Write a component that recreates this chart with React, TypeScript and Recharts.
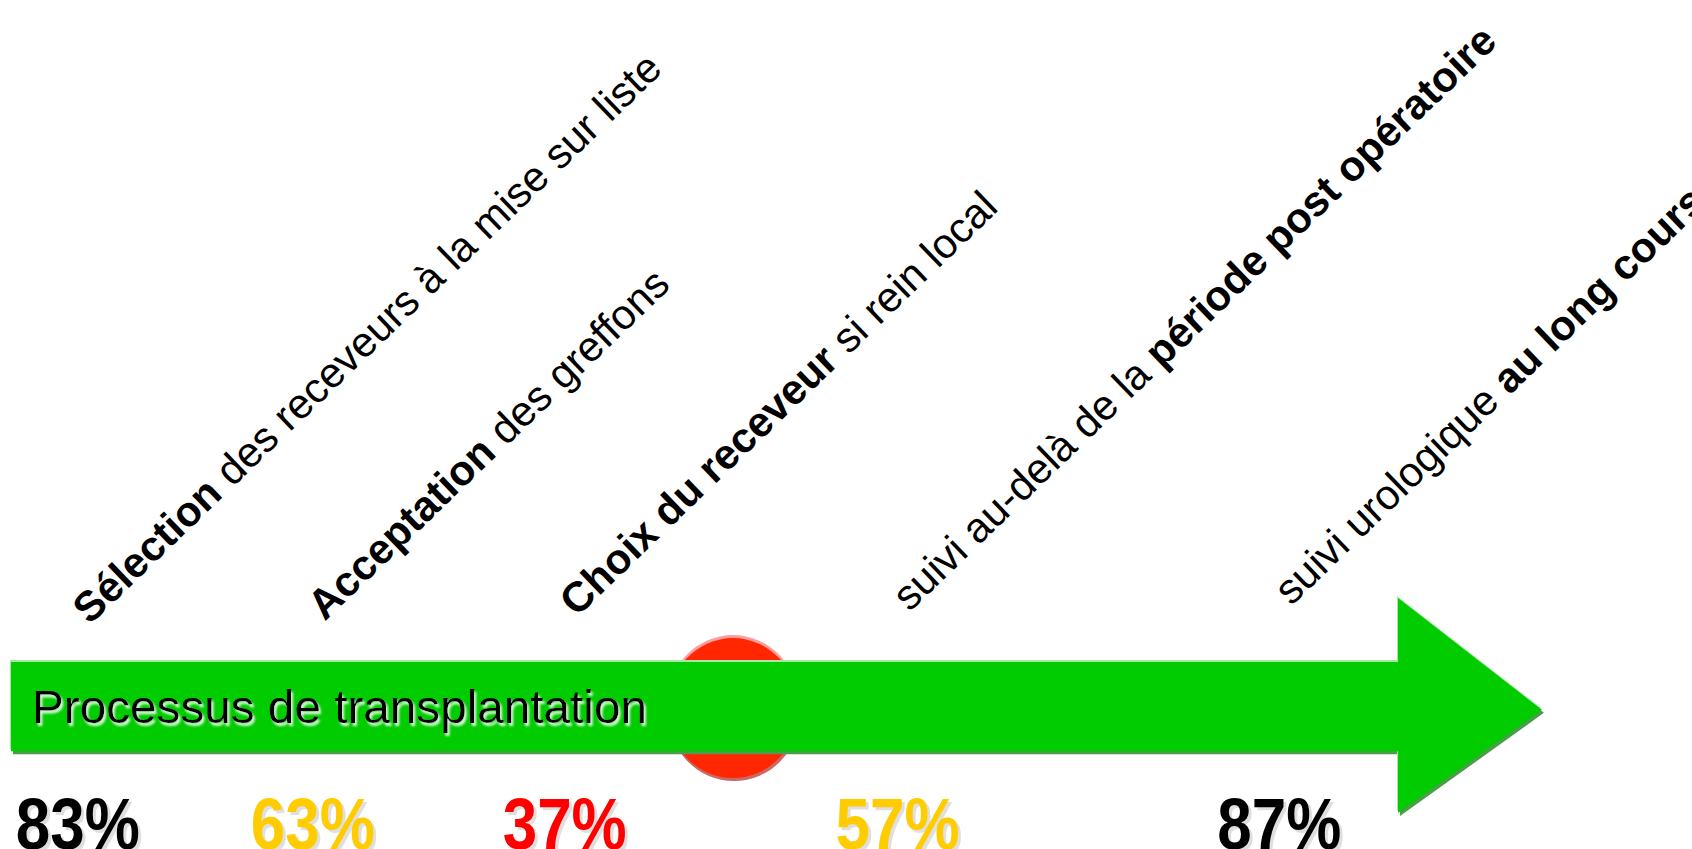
import React from 'react';
import { ComposedChart, XAxis, YAxis, ReferenceArea, ReferenceDot } from 'recharts';

// ---- Data -------------------------------------------------------------
const stageNames = [
  'Sélection des receveurs à la mise sur liste',
  'Acceptation des greffons',
  'Choix du receveur si rein local',
  'suivi au-delà de la période post opératoire',
  'suivi urologique au long cours',
];
const stageEmphasis = [
  'Sélection',
  'Acceptation',
  'Choix du receveur',
  'période post opératoire',
  'au long cours',
];
// position of each stage along the transplantation timeline (0–100)
const stagePositions = [4.95, 18.84, 33.73, 53.4, 75.96];
const conformityRates = [83, 63, 37, 57, 87];
const rateColors = ['#000000', '#FFCC00', '#FF0000', '#FFCC00', '#000000'];
const processTitle = 'Processus de transplantation';
// alert marker on the timeline
const alertPosition = [43.32];
const alertLevel = [16.4];
// arrow extent on the timeline
const arrowStart = [0.65];
const arrowEnd = [91.13];
const arrowLow = [4.0];
const arrowHigh = [29.4];

const data = stagePositions.map((pos, i) => ({
  pos,
  rate: conformityRates[i],
  name: stageNames[i],
}));

const FONT = "'Liberation Sans', Arial, Helvetica, sans-serif";

// ---- Rendering helpers -----------------------------------------------
const renderParts = (name: string, emph: string) => {
  const idx = name.indexOf(emph);
  const parts: { t: string; b: boolean }[] = [];
  if (idx > 0) parts.push({ t: name.slice(0, idx), b: false });
  parts.push({ t: emph, b: true });
  const rest = name.slice(idx + emph.length);
  if (rest) parts.push({ t: rest, b: false });
  return parts.map((p, k) => (
    <tspan key={k} fontWeight={p.b ? 'bold' : 'normal'}>
      {p.t}
    </tspan>
  ));
};

const StageTick = (props: any) => {
  const { x, y, payload } = props;
  const i = stagePositions.indexOf(payload.value);
  if (i < 0) return null;
  const lx = x + 6;
  const ly = y - 220 - lx * 0.0159;
  const px = x - 6;
  const py = y + 2;
  return (
    <g>
      <text
        x={lx}
        y={ly}
        fontFamily={FONT}
        fontSize={42}
        fill="#000"
        transform={`rotate(-44, ${lx}, ${ly})`}
        style={{ whiteSpace: 'pre' }}
      >
        {renderParts(stageNames[i], stageEmphasis[i])}
      </text>
      <text
        x={px + 3}
        y={py + 3}
        textAnchor="middle"
        fontFamily={FONT}
        fontSize={72}
        fontWeight="bold"
        fill="#000"
        opacity={0.12}
        textLength={124}
        lengthAdjust="spacingAndGlyphs"
      >
        {conformityRates[i]}%
      </text>
      <text
        x={px}
        y={py}
        textAnchor="middle"
        fontFamily={FONT}
        fontSize={72}
        fontWeight="bold"
        fill={rateColors[i]}
        textLength={124}
        lengthAdjust="spacingAndGlyphs"
      >
        {conformityRates[i]}%
      </text>
    </g>
  );
};

const ArrowShape = (p: any) => {
  const { x, y, width, height } = p;
  if (x == null || width == null) return null;
  const headX = x + width * 0.906;
  const sTop = y + height * 0.298;
  const sBot = y + height * 0.712;
  const tipY = y + height * 0.52;
  const pts = (dx: number, dy: number) =>
    [
      [x, sTop],
      [headX, sTop],
      [headX, y],
      [x + width, tipY],
      [headX, y + height],
      [headX, sBot],
      [x, sBot],
    ]
      .map(([a, b]) => `${a + dx},${b + dy}`)
      .join(' ');
  return (
    <g>
      <defs>
        <filter id="titleGlow" x="-5%" y="-30%" width="110%" height="160%">
          <feDropShadow dx="2" dy="3" stdDeviation="1.3" floodColor="#ffffff" floodOpacity="0.85" />
        </filter>
      </defs>
      <polygon points={pts(2, 3)} fill="#4a9e4a" />
      <polygon points={pts(-1, -2)} fill="#a8e6a8" />
      <polygon points={pts(0, 0)} fill="#00CC00" />
      <text
        x={x + 21}
        y={sTop + 61}
        fontFamily={FONT}
        fontSize={47}
        fill="#000"
        textLength={615}
        lengthAdjust="spacingAndGlyphs"
        filter="url(#titleGlow)"
      >
        {processTitle}
      </text>
    </g>
  );
};

const AlertShape = (p: any) => {
  const { cx, cy } = p;
  if (cx == null || cy == null) return null;
  const rx = 67;
  const ry = 71;
  return (
    <g>
      <ellipse cx={cx + 1} cy={cy + 2} rx={rx} ry={ry} fill="#c0504d" opacity={0.85} />
      <ellipse cx={cx} cy={cy - 2} rx={rx} ry={ry} fill="#ff9e9e" />
      <ellipse cx={cx} cy={cy} rx={rx - 1} ry={ry - 1} fill="#FF2600" />
    </g>
  );
};

export default function App() {
  return (
    <div style={{ position: 'absolute', left: 0, top: 0, width: 1692, height: 849, background: '#fff' }}>
      <ComposedChart
        width={1692}
        height={849}
        data={data}
        margin={{ top: 0, right: 0, bottom: 0, left: 0 }}
        style={{ fontFamily: FONT }}
      >
        <XAxis
          dataKey="pos"
          type="number"
          domain={[0, 100]}
          allowDataOverflow
          ticks={stagePositions}
          interval={0}
          tick={(props: any) => <StageTick {...props} />}
          axisLine={false}
          tickLine={false}
          tickSize={0}
          tickMargin={0}
          height={2}
        />
        <YAxis type="number" domain={[0, 100]} allowDataOverflow hide />
        <ReferenceDot
          x={alertPosition[0]}
          y={alertLevel[0]}
          r={64}
          ifOverflow="visible"
          shape={(p: any) => <AlertShape {...p} />}
          zIndex={100}
        />
        <ReferenceArea
          x1={arrowStart[0]}
          x2={arrowEnd[0]}
          y1={arrowLow[0]}
          y2={arrowHigh[0]}
          ifOverflow="visible"
          shape={(p: any) => <ArrowShape {...p} />}
          zIndex={200}
        />
      </ComposedChart>
    </div>
  );
}
